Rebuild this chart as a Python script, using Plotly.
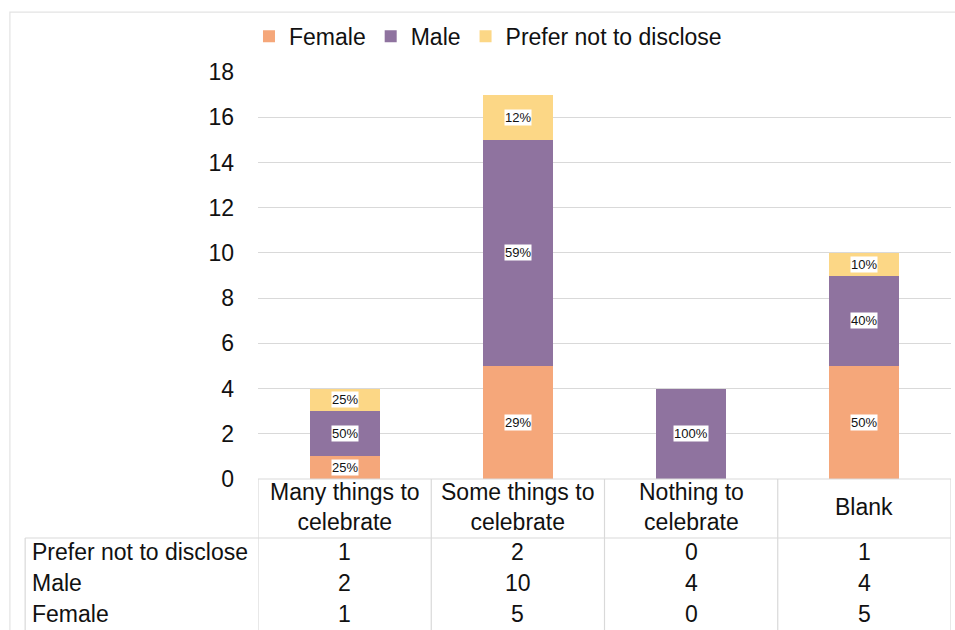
import plotly.graph_objects as go

categories = ["Many things to celebrate", "Some things to celebrate", "Nothing to celebrate", "Blank"]
header_labels = ["Many things to<br>celebrate", "Some things to<br>celebrate", "Nothing to<br>celebrate", "Blank"]
female = [1, 5, 0, 5]
male = [2, 10, 4, 4]
prefer_not = [1, 2, 0, 1]
y_ticks = [0, 2, 4, 6, 8, 10, 12, 14, 16, 18]

series = [
    ("Female", female, "#F5A77A"),
    ("Male", male, "#8F739F"),
    ("Prefer not to disclose", prefer_not, "#FCD786"),
]

FONT = "Liberation Sans, Arial, sans-serif"
TXT = "#111111"

fig = go.Figure()
for name, vals, color in series:
    fig.add_trace(go.Bar(x=categories, y=vals, name=name, marker=dict(color=color, line=dict(width=0))))

annotations = []
totals = [f + m + p for f, m, p in zip(female, male, prefer_not)]
for i, cat in enumerate(categories):
    base = 0
    for name, vals, color in series:
        v = vals[i]
        if v > 0:
            pct = round(v / totals[i] * 100)
            annotations.append(dict(x=cat, y=base + v / 2, xref="x", yref="y", text=f"{pct}%",
                                    showarrow=False, bgcolor="white", borderpad=0,
                                    font=dict(family=FONT, size=13, color=TXT)))
        base += v

# table header (category labels)
for i, cat in enumerate(categories):
    annotations.append(dict(x=cat, y=-0.069, xref="x", yref="paper", text=header_labels[i],
                            showarrow=False, yanchor="middle",
                            font=dict(family=FONT, size=23, color=TXT)))

LEFT = -0.336  # left edge of the table (paper units)

# table rows
rows = [("Prefer not to disclose", prefer_not), ("Male", male), ("Female", female)]
row_y = [-0.179, -0.256, -0.332]
for (rname, vals), ry in zip(rows, row_y):
    annotations.append(dict(x=LEFT, y=ry, xref="paper", yref="paper", text=rname, showarrow=False,
                            xanchor="left", yanchor="middle", xshift=5,
                            font=dict(family=FONT, size=23, color=TXT)))
    for i, cat in enumerate(categories):
        annotations.append(dict(x=cat, y=ry, xref="x", yref="paper", text=str(vals[i]), showarrow=False,
                                yanchor="middle", font=dict(family=FONT, size=23, color=TXT)))

line_col = "#D9D9D9"
shapes = []
# axis line
shapes.append(dict(type="line", xref="x", yref="paper", x0=-0.5, x1=len(categories) - 0.5, y0=0, y1=0,
                   line=dict(color=line_col, width=1.2)))
# vertical table separators
for b in range(len(categories) + 1):
    shapes.append(dict(type="line", xref="x", yref="paper", x0=b - 0.5, x1=b - 0.5, y0=0, y1=-0.38,
                       line=dict(color=line_col, width=1.2)))
# horizontal line below header
shapes.append(dict(type="line", xref="paper", yref="paper", x0=LEFT, x1=1.0, y0=-0.145, y1=-0.145,
                   line=dict(color=line_col, width=1.2)))
# left table border
shapes.append(dict(type="line", xref="paper", yref="paper", x0=LEFT, x1=LEFT, y0=-0.145, y1=-0.38,
                   line=dict(color=line_col, width=1.2)))
# outer frame
shapes.append(dict(type="rect", xref="paper", yref="paper", x0=-0.358, x1=1.02, y0=1.147, y1=-0.40,
                   line=dict(color="#E3E3E3", width=1.2), layer="below"))

fig.update_layout(
    width=955, height=630,
    margin=dict(l=258, r=4, t=72, b=151),
    barmode="stack",
    bargap=0.595,
    plot_bgcolor="white", paper_bgcolor="white",
    font=dict(family=FONT, color=TXT),
    showlegend=True,
    legend=dict(orientation="h", x=-0.013, xanchor="left", y=1.088, yanchor="middle",
                font=dict(family=FONT, size=23, color=TXT), traceorder="normal",
                itemclick=False, itemsizing="constant"),
    xaxis=dict(showticklabels=False, showgrid=False, zeroline=False, showline=False,
               range=[-0.5, len(categories) - 0.5], fixedrange=True),
    yaxis=dict(range=[0, 18], tickvals=y_ticks, showgrid=True, gridcolor=line_col, gridwidth=1.2,
               zeroline=False, showline=False, ticklabelstandoff=23,
               tickfont=dict(family=FONT, size=23, color=TXT)),
    annotations=annotations,
    shapes=shapes,
)

fig.write_html("out.html", config={"displayModeBar": False},
               post_script="document.body.style.margin='0';document.body.style.overflow='hidden';")
